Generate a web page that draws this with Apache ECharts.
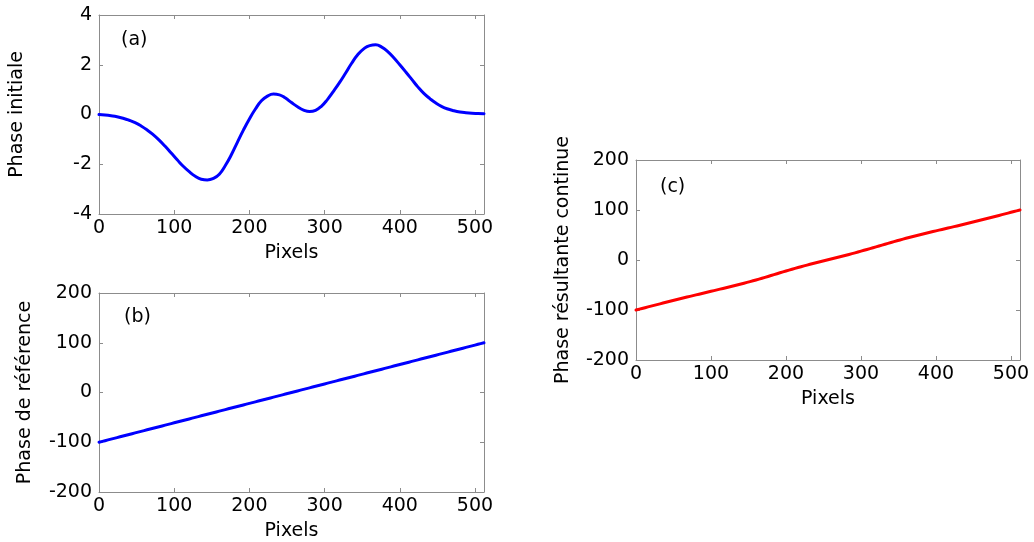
<!DOCTYPE html>
<html>
<head>
<meta charset="utf-8">
<script src="https://cdn.jsdelivr.net/npm/echarts@6/dist/echarts.min.js"></script>
<style>html,body{margin:0;padding:0;background:#fff}#c{width:1034px;height:542px}</style>
</head>
<body>
<div id="c"></div>
<script>
// Pixel positions (x axis, shared by all panels)
var pixels = [0,8,16,24,32,40,48,56,64,72,80,88,96,104,112,120,128,136,144,152,160,168,176,184,192,200,208,216,224,232,240,248,256,264,272,280,288,296,304,312,320,328,336,344,352,360,368,376,384,392,400,408,416,424,432,440,448,456,464,472,480,488,496,504,512];
// (a) Phase initiale
var phaseInitiale = [0.0,-0.02,-0.05,-0.09,-0.15,-0.23,-0.33,-0.46,-0.62,-0.81,-1.03,-1.28,-1.55,-1.82,-2.08,-2.3,-2.48,-2.6,-2.63,-2.57,-2.4,-2.05,-1.62,-1.12,-0.63,-0.18,0.22,0.55,0.74,0.82,0.79,0.66,0.48,0.31,0.18,0.12,0.17,0.34,0.61,0.94,1.29,1.67,2.06,2.4,2.64,2.77,2.8,2.71,2.53,2.28,2.0,1.71,1.41,1.11,0.85,0.64,0.46,0.32,0.22,0.15,0.1,0.07,0.05,0.04,0.03];
// (b) Phase de référence
var phaseReference = [-100,-96.88,-93.75,-90.63,-87.5,-84.38,-81.25,-78.13,-75,-71.88,-68.75,-65.63,-62.5,-59.38,-56.25,-53.13,-50,-46.88,-43.75,-40.63,-37.5,-34.38,-31.25,-28.13,-25,-21.88,-18.75,-15.63,-12.5,-9.38,-6.25,-3.13,0,3.13,6.25,9.38,12.5,15.63,18.75,21.88,25,28.13,31.25,34.38,37.5,40.63,43.75,46.88,50,53.13,56.25,59.38,62.5,65.63,68.75,71.88,75,78.13,81.25,84.38,87.5,90.63,93.75,96.88,100];
// (c) Phase résultante continue
var phaseResultante = [-100,-96.9,-93.8,-90.7,-87.7,-84.6,-81.6,-78.6,-75.6,-72.7,-69.8,-66.9,-64.1,-61.2,-58.3,-55.4,-52.5,-49.5,-46.4,-43.2,-39.9,-36.4,-32.9,-29.2,-25.6,-22.1,-18.5,-15.1,-11.8,-8.6,-5.5,-2.5,0.5,3.4,6.4,9.5,12.7,16.0,19.4,22.8,26.3,29.8,33.3,36.8,40.1,43.4,46.6,49.6,52.5,55.4,58.3,61.1,63.9,66.7,69.6,72.5,75.5,78.4,81.5,84.5,87.6,90.7,93.8,96.9,100.0];
var xTicks = [0,100,200,300,400,500];
var yTicksA = [-4,-2,0,2,4];
var yTicksBC = [-200,-100,0,100,200];
var panelLabels = ['(a)','(b)','(c)'];
var xTitle = 'Pixels';
var yTitles = ['Phase initiale','Phase de référence','Phase résultante continue'];

function zip(xs, ys){ return xs.map(function(x,i){ return [x, ys[i]]; }); }

var FONT = 'DejaVu Sans';
var AXC = '#8c8c8c';
var grids = [
  {left:99, top:15, width:385, height:199},
  {left:99, top:293, width:385, height:199},
  {left:636, top:160, width:384, height:200}
];
var yRanges = [[-4,4,2],[-200,200,100],[-200,200,100]];
var yGaps = [72, 64, 63];

var xAxes = [], yAxes = [];
grids.forEach(function(g, i){
  xAxes.push({
    type:'value', gridIndex:i, position:'bottom', min:0, max:512, interval:100,
    name: xTitle, nameLocation:'middle', nameGap:30,
    nameTextStyle:{color:'#000', fontFamily:FONT, fontSize:19},
    axisLine:{show:true, onZero:false, lineStyle:{color:AXC, width:1}},
    axisTick:{show:true, inside:true, length:4, lineStyle:{color:AXC}},
    axisLabel:{color:'#000', fontFamily:FONT, fontSize:19, margin:5, showMaxLabel:false,
      formatter:function(v){ return xTicks.indexOf(v) >= 0 ? String(v) : ''; }},
    splitLine:{show:false}
  });
  xAxes.push({
    type:'value', gridIndex:i, position:'top', min:0, max:512, interval:100,
    axisLine:{show:true, onZero:false, lineStyle:{color:AXC, width:1}},
    axisTick:{show:true, inside:true, length:4, lineStyle:{color:AXC}},
    axisLabel:{show:false}, splitLine:{show:false}
  });
  var r = yRanges[i];
  var yt = i === 0 ? yTicksA : yTicksBC;
  yAxes.push({
    type:'value', gridIndex:i, position:'left', min:r[0], max:r[1], interval:r[2],
    name: yTitles[i], nameLocation:'middle', nameGap:yGaps[i],
    nameTextStyle:{color:'#000', fontFamily:FONT, fontSize:19},
    axisLine:{show:true, onZero:false, lineStyle:{color:AXC, width:1}},
    axisTick:{show:true, inside:true, length:4, lineStyle:{color:AXC}},
    axisLabel:{color:'#000', fontFamily:FONT, fontSize:19, margin:7,
      formatter:function(v){ return yt.indexOf(v) >= 0 ? String(v) : ''; }},
    splitLine:{show:false}
  });
  yAxes.push({
    type:'value', gridIndex:i, position:'right', min:r[0], max:r[1], interval:r[2],
    axisLine:{show:true, onZero:false, lineStyle:{color:AXC, width:1}},
    axisTick:{show:true, inside:true, length:4, lineStyle:{color:AXC}},
    axisLabel:{show:false}, splitLine:{show:false}
  });
});

var seriesData = [phaseInitiale, phaseReference, phaseResultante];
var colors = ['#0000ff','#0000ff','#ff0000'];
var series = seriesData.map(function(d, i){
  return {
    type:'line', xAxisIndex:i*2, yAxisIndex:i*2, data: zip(pixels, d),
    smooth: i === 0 ? 0.5 : 0.3, showSymbol:false, symbol:'none',
    lineStyle:{color:colors[i], width:3, join:'round', cap:'round'}, animation:false, z:3
  };
});

var labelPos = [[121,31],[124,308],[660,178]];
var graphic = panelLabels.map(function(t, i){
  return {type:'text', left:labelPos[i][0], top:labelPos[i][1],
    style:{text:t, fill:'#000', font:'19px "' + FONT + '"'}};
});

var chart = echarts.init(document.getElementById('c'), null, {renderer:'canvas'});
chart.setOption({
  animation:false,
  backgroundColor:'#fff',
  grid: grids,
  xAxis: xAxes,
  yAxis: yAxes,
  series: series,
  graphic: graphic
});
</script>
</body>
</html>
